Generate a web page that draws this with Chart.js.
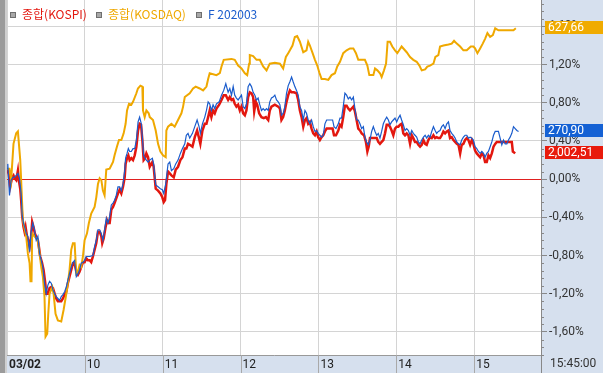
<!DOCTYPE html>
<html>
<head>
<meta charset="utf-8">
<script src="https://cdn.jsdelivr.net/npm/chart.js@4"></script>
<style>
  body { margin: 0; background: #fff; }
  #wrap { position: relative; width: 603px; height: 373px; }
  canvas { display: block; }
  .item { position: absolute; top: 5px; height: 16px; line-height: 16px; font: 12px "Noto Sans CJK KR", sans-serif; white-space: nowrap; }
  .box { display: inline-block; width: 4px; height: 4px; border: 1px solid #6f6f6f; background: #a8a8a8; margin-right: 6px; vertical-align: 1px; }
  #clock { position: absolute; left: 550px; top: 356px; font: 12px Roboto, sans-serif; color: #333; }
</style>
</head>
<body>
<div id="wrap">
  <canvas id="chart" width="603" height="373"></canvas>
  <div id="legend"></div>
  <div id="clock">15:45:00</div>
</div>
<script>
// minutes after 09:00, % change from previous close
const kospi = [
  [0,0.11],[1.4,0.05],[2.4,-0.08],[4.0,0.02],[5.0,0.04],[5.8,0.01],[7.1,-0.01],[8.4,0.09],[9.1,-0.01],[10.2,-0.10],
  [10.9,-0.22],[11.7,-0.39],[12.7,-0.50],[13.5,-0.55],[14.3,-0.50],[15.3,-0.59],[16.3,-0.64],[17.4,-0.71],[18.6,-0.60],[19.4,-0.45],
  [20.4,-0.50],[21.5,-0.57],[22.5,-0.60],[23.8,-0.64],[24.6,-0.71],[25.6,-0.81],[26.9,-0.87],[28.2,-0.95],[29.5,-1.09],[30.2,-1.20],
  [31.5,-1.20],[32.8,-1.14],[34.1,-1.13],[35.4,-1.14],[36.7,-1.20],[37.9,-1.25],[39.2,-1.28],[41.8,-1.28],[43.1,-1.25],[44.4,-1.21],
  [45.7,-1.18],[46.9,-1.09],[48.2,-1.02],[49.5,-0.95],[50.8,-0.88],[52.1,-0.88],[53.4,-0.97],[54.7,-1.00],[55.9,-0.97],[57.2,-0.92],
  [58.5,-0.87],[59.8,-0.87],[61.1,-0.83],[62.4,-0.85],[63.7,-0.85],[64.9,-0.87],[66.2,-0.81],[67.5,-0.74],[68.8,-0.67],[70.1,-0.55],
  [71.4,-0.55],[72.7,-0.60],[73.4,-0.67],[74.5,-0.62],[76.0,-0.50],[77.0,-0.43],[77.8,-0.46],[79.1,-0.46],[80.4,-0.32],[81.7,-0.29],
  [82.9,-0.25],[84.2,-0.20],[85.5,-0.15],[86.8,-0.11],[88.1,-0.15],[89.4,-0.08],[90.7,0.02],[91.4,0.16],[92.5,0.22],[93.5,0.25],
  [94.5,0.20],[95.8,0.22],[97.1,0.20],[98.4,0.25],[99.7,0.34],[101.0,0.51],[102.2,0.58],[103.3,0.57],[104.3,0.41],[105.3,0.20],
  [106.4,0.22],[107.4,0.27],[108.7,0.23],[110.0,0.13],[112.0,0.18],[113.0,0.13],[114.6,-0.10],[116.4,-0.12],[118.2,-0.15],[119.7,-0.19],
  [120.8,-0.24],[121.8,-0.22],[122.8,-0.05],[124.1,0.08],[125.4,0.06],[126.7,0.04],[128.5,0.02],[130.0,0.10],[131.8,0.13],[133.6,0.20],
  [135.2,0.23],[137.0,0.32],[138.2,0.32],[139.5,0.37],[140.8,0.36],[142.9,0.34],[144.7,0.44],[146.5,0.51],[148.0,0.43],[149.0,0.37],
  [150.6,0.51],[152.4,0.58],[153.7,0.58],[155.0,0.65],[156.2,0.72],[157.5,0.65],[158.8,0.72],[160.1,0.69],[161.4,0.74],[163.5,0.78],
  [165.3,0.83],[167.0,0.88],[168.6,0.88],[170.4,0.83],[171.7,0.86],[173.0,0.83],[174.3,0.84],[175.5,0.79],[176.8,0.76],[178.1,0.78],
  [179.4,0.72],[180.7,0.76],[182.0,0.69],[183.3,0.67],[184.5,0.72],[185.8,0.86],[187.1,0.91],[188.4,0.90],[189.7,0.86],[190.5,0.71],
  [191.7,0.81],[192.8,0.78],[194.3,0.69],[196.1,0.65],[197.9,0.64],[199.5,0.65],[201.3,0.62],[202.5,0.72],[203.8,0.76],[206.4,0.78],
  [209.0,0.76],[210.3,0.74],[211.5,0.62],[212.8,0.65],[214.1,0.72],[215.4,0.81],[216.7,0.88],[218.0,0.93],[219.3,0.91],[221.1,0.91],
  [223.1,0.90],[224.4,0.83],[225.7,0.72],[227.0,0.65],[228.3,0.55],[229.6,0.62],[230.8,0.64],[232.1,0.58],[233.4,0.60],[234.7,0.53],
  [236.0,0.48],[237.3,0.46],[238.6,0.50],[239.8,0.44],[241.1,0.41],[242.4,0.44],[243.7,0.46],[245.0,0.50],[246.3,0.53],[248.8,0.53],
  [250.9,0.53],[252.0,0.46],[253.5,0.46],[255.3,0.51],[256.6,0.57],[257.8,0.55],[259.1,0.65],[260.4,0.77],[261.7,0.77],[263.0,0.74],
  [264.3,0.72],[265.6,0.74],[266.9,0.76],[268.1,0.71],[269.4,0.62],[270.7,0.53],[272.0,0.51],[273.3,0.48],[275.1,0.46],[276.6,0.39],
  [277.7,0.29],[278.7,0.34],[279.7,0.43],[282.3,0.43],[284.9,0.43],[286.1,0.39],[287.4,0.37],[288.7,0.39],[290.0,0.41],[291.3,0.48],
  [292.6,0.57],[293.9,0.57],[295.1,0.55],[296.4,0.51],[297.7,0.46],[299.0,0.53],[300.3,0.55],[301.6,0.55],[302.9,0.57],[304.1,0.58],
  [305.4,0.48],[306.7,0.46],[308.0,0.48],[309.3,0.46],[310.6,0.37],[311.9,0.46],[313.1,0.43],[314.4,0.39],[315.7,0.39],[317.0,0.36],
  [318.3,0.34],[319.6,0.36],[320.9,0.41],[322.2,0.37],[323.4,0.36],[324.7,0.41],[326.0,0.44],[327.3,0.43],[328.6,0.46],[329.9,0.43],
  [331.1,0.44],[332.4,0.43],[333.7,0.43],[335.0,0.46],[336.3,0.50],[337.6,0.48],[338.9,0.50],[340.2,0.51],[341.4,0.43],[342.7,0.44],
  [344.0,0.41],[345.3,0.39],[346.6,0.37],[347.9,0.36],[349.2,0.27],[350.4,0.36],[351.7,0.37],[353.0,0.41],[354.3,0.43],[355.6,0.41],
  [356.9,0.36],[358.2,0.41],[359.4,0.37],[360.7,0.30],[362.0,0.27],[363.3,0.25],[364.6,0.23],[365.9,0.27],[367.2,0.25],[368.4,0.18],
  [369.7,0.18],[371.0,0.25],[372.3,0.22],[373.6,0.27],[374.9,0.34],[376.2,0.37],[377.4,0.39],[380.0,0.39],[382.6,0.39],[385.2,0.39],
  [387.7,0.39],[389.0,0.39],[389.8,0.29],[391.6,0.27]
];

const kosdaq = [
  [0,0.11],[1.9,0.11],[3.2,-0.01],[5.0,0.37],[7.1,0.48],[8.4,0.50],[10.2,0.20],[10.9,-0.01],[12.2,-0.43],[14.8,-0.60],
  [16.1,-0.78],[17.4,-0.88],[18.1,-1.07],[18.9,-1.07],[19.4,-0.57],[21.2,-0.60],[23.8,-0.64],[25.1,-0.78],[26.4,-0.92],[27.6,-1.02],
  [28.9,-1.23],[29.7,-1.65],[31.0,-1.62],[31.8,-1.41],[32.8,-1.20],[34.9,-1.13],[35.9,-1.20],[37.4,-1.41],[39.2,-1.48],[41.8,-1.49],
  [43.6,-1.37],[45.7,-1.20],[46.9,-1.09],[48.2,-0.95],[49.5,-0.74],[50.8,-0.67],[52.1,-0.67],[53.4,-0.99],[54.6,-0.97],[55.9,-0.90],
  [57.2,-0.92],[58.5,-0.81],[59.8,-0.64],[61.6,-0.57],[63.1,-0.46],[64.9,-0.36],[67.5,-0.29],[68.8,-0.19],[70.1,-0.05],[71.4,0.01],
  [72.7,-0.01],[73.9,-0.12],[75.2,-0.17],[76.5,0.10],[79.1,0.11],[81.7,0.18],[82.9,0.25],[84.7,0.34],[86.3,0.41],[88.1,0.41],
  [89.9,0.48],[91.4,0.58],[92.5,0.72],[94.0,0.79],[95.8,0.78],[97.1,0.81],[99.7,0.90],[100.9,0.95],[102.8,0.98],[104.3,0.97],
  [104.8,0.72],[106.1,0.65],[107.4,0.72],[109.2,0.69],[110.0,0.65],[112.5,0.62],[114.6,0.51],[116.4,0.37],[118.2,0.29],[120.2,0.25],
  [122.3,0.23],[122.8,0.51],[124.1,0.55],[126.7,0.58],[129.2,0.55],[131.8,0.62],[134.4,0.69],[135.7,0.76],[137.0,0.86],[140.8,0.90],
  [143.4,0.95],[145.4,0.97],[148.5,0.95],[151.1,0.93],[153.7,0.97],[155.0,1.05],[156.2,1.11],[161.4,1.09],[164.0,1.11],[165.3,1.18],
  [167.0,1.25],[173.0,1.26],[175.5,1.25],[178.1,1.19],[180.7,1.16],[183.3,1.11],[185.1,1.09],[186.6,1.21],[187.1,1.30],[189.7,1.29],
  [192.3,1.25],[194.8,1.25],[197.4,1.18],[200.0,1.14],[202.5,1.21],[206.4,1.22],[210.3,1.21],[212.8,1.16],[214.9,1.28],[216.7,1.32],
  [218.0,1.35],[220.0,1.40],[221.8,1.49],[223.6,1.50],[225.7,1.44],[228.3,1.33],[230.8,1.35],[232.1,1.44],[233.4,1.40],[235.5,1.32],
  [237.3,1.25],[239.1,1.19],[240.6,1.12],[242.4,1.05],[245.0,1.05],[247.6,1.04],[250.1,1.09],[252.7,1.11],[254.5,1.18],[256.6,1.23],
  [259.1,1.32],[261.7,1.35],[264.3,1.37],[266.9,1.37],[268.9,1.32],[270.7,1.25],[275.8,1.25],[277.7,1.19],[279.2,1.09],[282.3,1.09],
  [283.6,1.16],[285.4,1.14],[287.4,1.11],[288.7,1.07],[290.5,1.14],[292.1,1.21],[293.3,1.44],[295.1,1.44],[296.9,1.39],[299.0,1.35],
  [300.8,1.32],[304.1,1.39],[308.0,1.33],[310.6,1.28],[313.1,1.25],[315.7,1.23],[317.8,1.19],[319.6,1.14],[322.2,1.15],[323.9,1.18],
  [326.0,1.19],[328.6,1.21],[330.1,1.28],[332.4,1.30],[333.7,1.39],[336.3,1.40],[340.2,1.41],[342.7,1.42],[344.5,1.45],[346.6,1.42],
  [349.2,1.39],[351.7,1.35],[354.3,1.35],[357.4,1.39],[359.4,1.39],[360.7,1.37],[362.5,1.32],[364.6,1.37],[366.6,1.42],[368.4,1.47],
  [370.2,1.53],[372.3,1.49],[374.4,1.51],[376.2,1.58],[378.7,1.56],[390.3,1.56],[392.1,1.58]
];

const futures = [
  [0,0.11],[0.6,0.16],[1.9,-0.17],[3.2,-0.01],[4.5,0.02],[5.8,0.02],[7.1,0.04],[8.4,0.06],[9.6,0.01],[10.9,-0.15],
  [11.7,-0.38],[12.7,-0.46],[14.0,-0.52],[14.8,-0.57],[16.1,-0.60],[17.4,-0.76],[18.6,-0.55],[19.9,-0.46],[21.2,-0.53],[22.5,-0.64],
  [23.8,-0.60],[25.1,-0.78],[26.4,-0.85],[27.6,-0.92],[28.9,-1.09],[30.2,-1.20],[31.5,-1.11],[32.8,-1.07],[34.1,-1.09],[35.4,-1.16],
  [36.7,-1.20],[37.9,-1.23],[39.2,-1.25],[40.5,-1.27],[41.8,-1.23],[43.1,-1.21],[44.4,-1.18],[45.7,-1.13],[46.9,-1.06],[48.2,-0.99],
  [49.5,-0.92],[50.8,-0.87],[52.1,-0.85],[53.4,-1.02],[54.7,-0.99],[55.9,-0.95],[57.2,-0.88],[58.5,-0.87],[59.8,-0.85],[61.1,-0.81],
  [63.7,-0.81],[66.2,-0.80],[67.5,-0.71],[68.8,-0.64],[70.1,-0.53],[71.4,-0.53],[72.7,-0.57],[73.9,-0.64],[75.2,-0.53],[76.5,-0.41],
  [77.8,-0.46],[79.1,-0.39],[80.4,-0.27],[81.7,-0.25],[82.9,-0.22],[84.2,-0.17],[85.5,-0.08],[86.8,-0.08],[88.1,-0.12],[89.4,-0.05],
  [90.7,0.09],[91.4,0.22],[92.5,0.27],[93.5,0.32],[94.5,0.29],[95.8,0.29],[97.1,0.32],[98.4,0.32],[99.7,0.41],[101.0,0.60],
  [102.2,0.65],[103.5,0.58],[104.3,0.44],[105.3,0.25],[106.4,0.22],[107.4,0.20],[108.7,0.18],[110.0,0.20],[112.0,0.22],[113.0,0.16],
  [114.6,-0.06],[116.4,-0.08],[118.2,-0.10],[119.7,-0.11],[120.8,-0.15],[122.3,-0.05],[124.1,0.16],[125.4,0.18],[126.7,0.09],[128.5,0.11],
  [130.0,0.16],[131.8,0.20],[133.6,0.27],[135.2,0.32],[137.0,0.37],[138.2,0.46],[139.5,0.48],[140.8,0.43],[142.9,0.48],[144.7,0.55],
  [146.5,0.62],[148.0,0.55],[149.0,0.48],[150.6,0.58],[152.4,0.65],[153.7,0.72],[155.0,0.81],[156.2,0.79],[157.5,0.72],[158.8,0.78],
  [160.1,0.74],[161.4,0.79],[163.5,0.81],[165.3,0.88],[167.0,0.93],[168.6,1.00],[170.4,0.91],[171.7,0.95],[173.0,0.88],[174.3,0.97],
  [175.5,0.88],[176.8,0.85],[178.1,0.83],[180.7,0.88],[182.0,0.76],[183.3,0.74],[184.5,0.79],[185.8,0.97],[187.1,1.00],[188.4,0.97],
  [189.7,0.91],[191.0,0.88],[192.3,0.83],[193.5,0.85],[194.8,0.78],[196.1,0.72],[197.4,0.74],[198.7,0.72],[200.0,0.74],[201.3,0.72],
  [202.5,0.81],[203.8,0.85],[205.1,0.86],[206.4,0.88],[207.7,0.83],[209.0,0.81],[210.3,0.78],[211.5,0.67],[212.8,0.69],[214.1,0.76],
  [215.4,0.90],[216.7,0.98],[218.0,1.02],[219.3,1.07],[220.5,1.02],[221.8,0.97],[223.1,0.93],[224.4,0.88],[225.7,0.76],[227.0,0.72],
  [228.3,0.62],[229.6,0.72],[230.8,0.69],[232.1,0.62],[233.4,0.58],[234.7,0.62],[236.0,0.55],[237.3,0.50],[238.6,0.51],[239.8,0.48],
  [241.1,0.46],[242.4,0.44],[243.7,0.46],[245.0,0.58],[246.3,0.62],[248.8,0.62],[250.9,0.62],[252.0,0.55],[253.5,0.53],[255.3,0.58],
  [256.6,0.64],[257.8,0.64],[259.1,0.76],[260.4,0.90],[261.7,0.88],[263.0,0.84],[264.3,0.86],[265.6,0.83],[266.9,0.86],[268.1,0.74],
  [269.4,0.62],[270.7,0.62],[272.0,0.58],[273.3,0.53],[274.6,0.55],[275.8,0.44],[277.1,0.39],[278.4,0.36],[279.7,0.41],[281.0,0.50],
  [282.3,0.55],[283.6,0.50],[284.9,0.46],[286.1,0.48],[287.4,0.43],[288.7,0.50],[290.0,0.58],[291.3,0.62],[292.6,0.65],[293.9,0.62],
  [295.1,0.57],[296.4,0.60],[297.7,0.62],[299.0,0.64],[300.3,0.60],[301.6,0.64],[302.9,0.67],[304.1,0.62],[305.4,0.57],[306.7,0.51],
  [308.0,0.53],[309.3,0.51],[310.6,0.46],[311.9,0.51],[313.1,0.48],[314.4,0.46],[315.7,0.44],[317.0,0.39],[318.3,0.37],[319.6,0.41],
  [320.9,0.44],[322.2,0.46],[323.4,0.43],[324.7,0.46],[326.0,0.44],[327.3,0.50],[328.6,0.55],[329.9,0.51],[331.1,0.48],[332.4,0.50],
  [333.7,0.51],[335.0,0.55],[336.3,0.57],[337.6,0.53],[338.9,0.58],[340.2,0.60],[341.4,0.51],[342.7,0.48],[344.0,0.46],[345.3,0.43],
  [346.6,0.39],[347.9,0.37],[349.2,0.36],[350.4,0.41],[351.7,0.44],[353.0,0.46],[354.3,0.46],[355.6,0.43],[356.9,0.44],[358.2,0.43],
  [359.4,0.41],[360.7,0.34],[362.0,0.32],[363.3,0.29],[364.6,0.27],[365.9,0.29],[367.2,0.27],[368.4,0.23],[369.7,0.27],[371.0,0.29],
  [372.3,0.34],[373.6,0.39],[374.9,0.46],[376.2,0.50],[377.4,0.50],[378.7,0.50],[380.0,0.43],[381.3,0.36],[382.6,0.41],[383.9,0.37],
  [385.2,0.37],[386.4,0.41],[387.7,0.44],[389.0,0.48],[390.3,0.55],[391.6,0.53],[392.9,0.51],[394.2,0.50]
];

const seriesNames = ["종합(KOSPI)", "종합(KOSDAQ)", "F 202003"];
const seriesColors = ["#e3170f", "#efa800", "#1a5ccc"];
const tagColors = ["#e81a0c", "#f0ab00", "#1461d4"];
const lastQuotes = ["2,002,51", "627,66", "270,90"];
const hourLabels = ["03/02", "10", "11", "12", "13", "14", "15"];

// legend (html text over the canvas)
const legendLefts = [10, 96, 196];
const legend = document.getElementById("legend");
seriesNames.forEach((name, i) => {
  const d = document.createElement("div");
  d.className = "item";
  d.style.left = legendLefts[i] + "px";
  d.style.color = seriesColors[i];
  d.innerHTML = '<span class="box"></span>' + name;
  legend.appendChild(d);
});

const pts = (arr) => arr.map(([t, v]) => ({ x: t, y: v }));

const chrome = {
  id: "chrome",
  beforeDraw(chart) {
    const { ctx, chartArea: a, width, height } = chart;
    ctx.save();
    ctx.fillStyle = "#ffffff";
    ctx.fillRect(0, 0, width, height);
    ctx.fillStyle = "#d6e0ee";
    ctx.fillRect(a.right, 0, width - a.right, height);
    ctx.fillRect(a.left, a.bottom, a.right - a.left, height - a.bottom);
    ctx.fillStyle = "#9b9b9b";
    ctx.fillRect(0, 0, 5, height);
    ctx.fillStyle = "#cfcfcf";
    ctx.fillRect(5, 0, 2, height);
    ctx.restore();
  },
  afterDraw(chart) {
    const { ctx, chartArea: a, width, height } = chart;
    const xs = chart.scales.x, ys = chart.scales.y;
    ctx.save();
    // hour lines through the bottom band
    ctx.strokeStyle = "#a9a9a9";
    ctx.lineWidth = 1;
    xs.ticks.forEach((t, i) => {
      if (i === 0) return;
      const px = Math.round(xs.getPixelForValue(t.value)) + 0.5;
      ctx.beginPath();
      ctx.moveTo(px, a.bottom);
      ctx.lineTo(px, height);
      ctx.stroke();
    });
    // right axis line down to the bottom
    ctx.strokeStyle = "#888";
    ctx.beginPath();
    ctx.moveTo(Math.round(a.right) + 0.5, a.bottom);
    ctx.lineTo(Math.round(a.right) + 0.5, height);
    ctx.stroke();
    // minor ticks every 0.08%
    for (let k = Math.ceil(ys.min / 0.08); k <= Math.floor(ys.max / 0.08); k++) {
      if (k % 5 === 0) continue;
      const py = Math.round(ys.getPixelForValue(k * 0.08)) + 0.5;
      ctx.beginPath();
      ctx.moveTo(a.right, py);
      ctx.lineTo(a.right + 3, py);
      ctx.stroke();
    }
    // last value tags
    ctx.font = "12px Roboto";
    ctx.textBaseline = "middle";
    chart.data.datasets.forEach((ds, i) => {
      const last = ds.data[ds.data.length - 1];
      const py = Math.round(ys.getPixelForValue(last.y));
      ctx.fillStyle = tagColors[i];
      ctx.fillRect(a.right + 4, py - 7, width - a.right - 4, 13);
      ctx.fillStyle = "#ffffff";
      ctx.fillText(lastQuotes[i], a.right + 7, py);
    });
    ctx.restore();
  }
};

new Chart(document.getElementById("chart"), {
  type: "line",
  data: {
    datasets: [
      { label: seriesNames[0], data: pts(kospi), borderColor: seriesColors[0], borderWidth: 2.5, order: 2 },
      { label: seriesNames[1], data: pts(kosdaq), borderColor: seriesColors[1], borderWidth: 2, order: 1 },
      { label: seriesNames[2], data: pts(futures), borderColor: seriesColors[2], borderWidth: 1.2, order: 0 }
    ]
  },
  options: {
    responsive: false,
    animation: false,
    devicePixelRatio: 1,
    layout: { padding: { left: 7, top: 0, right: 0, bottom: 0 } },
    elements: { point: { radius: 0 }, line: { tension: 0 } },
    plugins: { legend: { display: false }, tooltip: { enabled: false } },
    scales: {
      x: {
        type: "linear",
        min: 0,
        max: 411.5,
        afterFit: (s) => { s.height = 18; s.paddingLeft = 0; s.paddingRight = 0; },
        border: { color: "#999" },
        grid: { color: "#d4d4d4", drawTicks: false },
        ticks: {
          stepSize: 60,
          autoSkip: false,
          maxRotation: 0,
          includeBounds: false,
          align: "start",
          labelOffset: 2,
          padding: 3,
          color: "#222",
          font: (c) => ({ family: "Roboto", size: 12, weight: c.index === 0 ? "bold" : "normal" }),
          callback: (v, i) => hourLabels[i]
        }
      },
      y: {
        position: "right",
        min: -1.842,
        max: 1.877,
        afterFit: (s) => { s.width = 62; s.paddingTop = 0; s.paddingBottom = 0; },
        border: { color: "#888" },
        grid: {
          color: (c) => (c.tick && Math.abs(c.tick.value) < 1e-9 ? "#e02020" : "#d4d4d4"),
          tickColor: "#888",
          tickLength: 6
        },
        ticks: {
          stepSize: 0.4,
          includeBounds: false,
          padding: 2,
          color: "#333",
          font: { family: "Roboto", size: 12 },
          callback: (v) => v.toFixed(2).replace(".", ",") + "%"
        }
      }
    }
  },
  plugins: [chrome]
});
</script>
</body>
</html>
